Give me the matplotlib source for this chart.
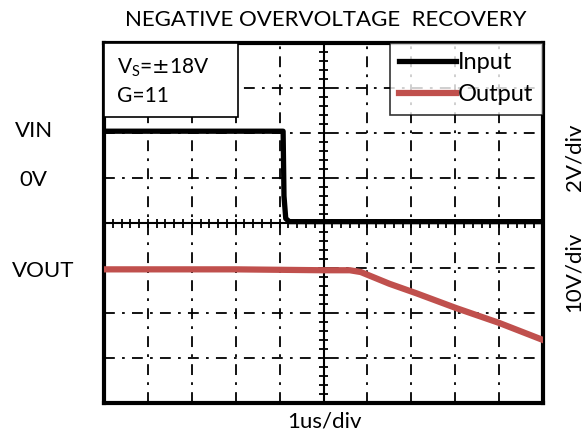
import numpy as np
import matplotlib.pyplot as plt

plt.rcParams['font.family'] = ['Lato', 'DejaVu Sans']

# screen divisions: x 0..10 (1us/div), y -4..4
t_in = [0.0, 4.08, 4.10, 4.14, 4.22, 10.0]
v_in = [2.04, 2.04, 0.60, 0.10, 0.03, 0.03]

t_out = [0.0, 3.0, 5.0, 5.6, 5.85, 6.05, 6.5, 7.11, 8.02, 9.0, 10.0]
v_out = [-1.03, -1.03, -1.05, -1.05, -1.09, -1.17, -1.35, -1.56, -1.89, -2.22, -2.6]

red = '#C0504D'

fig = plt.figure(figsize=(5.87, 4.38), dpi=100)
ax = fig.add_axes([104 / 587, 35 / 438, 439 / 587, 360 / 438])
ax.set_xlim(0, 10)
ax.set_ylim(-4, 4)

# grid
dashdot = (0, (6, 4, 1.5, 4))
for gx in range(1, 10):
    if gx != 5:
        ax.axvline(gx, color='black', lw=1.3, ls=dashdot, zorder=1)
for gy in range(-3, 4):
    if gy != 0:
        ax.axhline(gy, color='black', lw=1.3, ls=dashdot, zorder=1)
ax.axvline(5, color='black', lw=1.5, zorder=1)
ax.axhline(0, color='black', lw=1.5, zorder=1)

# minor ticks on center cross
mx = np.arange(0.2, 10, 0.2)
ax.vlines(mx, -0.1, 0.1, color='black', lw=1.3, zorder=1)
my = np.arange(-3.8, 4, 0.2)
ax.hlines(my, 4.9, 5.1, color='black', lw=1.3, zorder=1)

ax.plot(t_in, v_in, color='black', lw=3.8, label='Input', zorder=3)
ax.plot(t_out, v_out, color=red, lw=4.5, label='Output', zorder=3)

ax.set_xticks([])
ax.set_yticks([])
for s in ax.spines.values():
    s.set_linewidth(3)

# info box
ax.text(0.3, 3.45, r'V$_\mathregular{S}$=$\pm$18V', fontsize=15, va='center', zorder=5)
ax.text(0.3, 2.83, 'G=11', fontsize=15, va='center', zorder=5)
box = plt.Rectangle((0, 2.35), 3.05, 1.65, facecolor='white', edgecolor='black', lw=1.2, zorder=4)
ax.add_patch(box)

leg = ax.legend(loc='upper right', fontsize=17, frameon=True, fancybox=False,
                handlelength=2.4, handletextpad=0.1, borderpad=0.4,
                borderaxespad=0, labelspacing=0.45)
leg.get_frame().set_edgecolor('black')
leg.get_frame().set_linewidth(1.2)
leg.set_zorder(5)

fig.text(326 / 587, 1 - 20 / 438, 'NEGATIVE OVERVOLTAGE  RECOVERY', fontsize=16,
         ha='center', va='center')
fig.text(15 / 587, 1 - 131 / 438, 'VIN', fontsize=16, ha='left', va='center')
fig.text(19 / 587, 1 - 180 / 438, '0V', fontsize=16, ha='left', va='center')
fig.text(12 / 587, 1 - 271 / 438, 'VOUT', fontsize=16, ha='left', va='center')
fig.text(574 / 587, 1 - 157 / 438, '2V/div', fontsize=16, ha='center', va='center', rotation=90)
fig.text(574 / 587, 1 - 272 / 438, '10V/div', fontsize=16, ha='center', va='center', rotation=90)
fig.text(324 / 587, 1 - 421 / 438, '1us/div', fontsize=16, ha='center', va='center')

fig.savefig('out.png', dpi=100)
